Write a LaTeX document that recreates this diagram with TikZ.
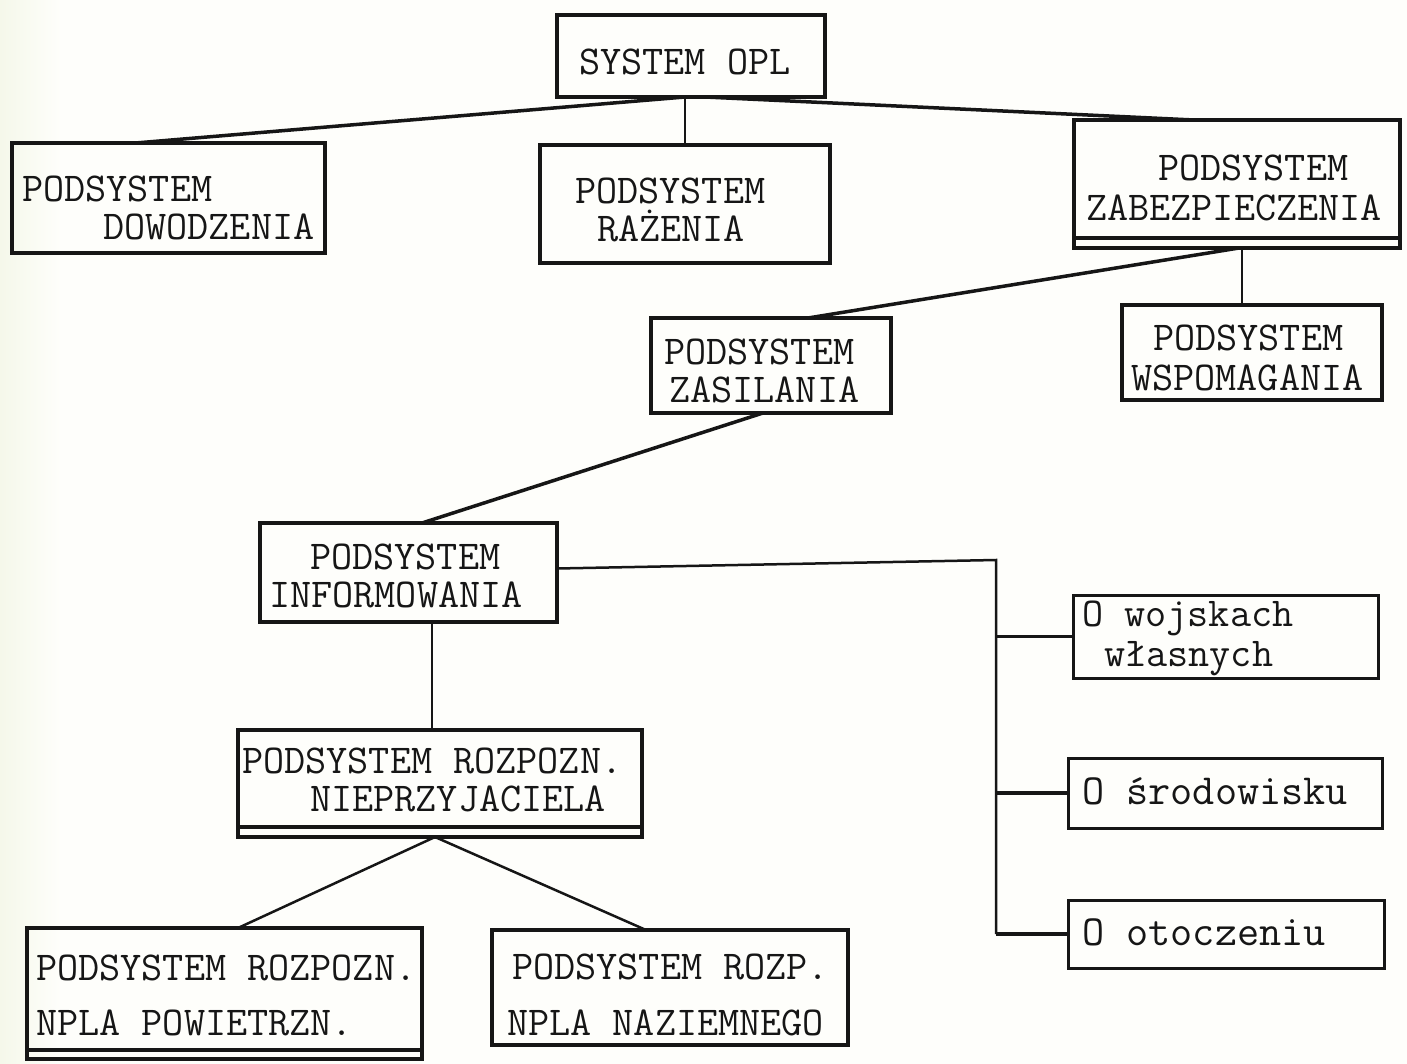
\documentclass[tikz,border=0pt]{standalone}
\usepackage{fontspec}
\usetikzlibrary{calc}
\definecolor{paper}{RGB}{254,254,251}
\definecolor{paperL}{RGB}{245,248,234}
\definecolor{ink}{RGB}{22,22,22}
\begin{document}
\begin{tikzpicture}[x=1pt,y=-1pt,
  bx/.style={draw=ink, line width=4.5pt, inner sep=0pt, outer sep=0pt},
  lbx/.style={draw=ink, line width=3pt, inner sep=0pt, outer sep=0pt},
  tx/.style={font=\fontsize{41}{#1}\selectfont\ttfamily, text=ink, anchor=north west, align=left, inner sep=0pt},
  tx/.default=40,
  tx1/.style={font=\fontsize{41}{48}\selectfont\ttfamily, text=ink, anchor=base west, inner sep=0pt},
  ltx1/.style={font=\fontsize{43}{50}\selectfont\ttfamily, text=ink, anchor=base west, inner sep=0pt},
  conn/.style={draw=ink, line width=3.5pt},
  thinconn/.style={draw=ink, line width=2.5pt}]
% background
\fill[paper] (0,0) rectangle (1407,1064);
\shade[left color=paperL, right color=paper] (0,0) rectangle (60,1064);
\useasboundingbox (0,0) rectangle (1407,1064);

% boxes
\node[bx, minimum width=268pt, minimum height=82pt]  (opl) at (691,56) {};
\node[bx, minimum width=313pt, minimum height=110pt] (dow) at (168.5,198) {};
\node[bx, minimum width=290pt, minimum height=118pt] (raz) at (685,204) {};
\node[bx, minimum width=326pt, minimum height=118pt] (zab) at (1237,179) {};
\node[bx, minimum width=240pt, minimum height=95pt]  (zas) at (771,365.5) {};
\node[bx, minimum width=260pt, minimum height=95pt]  (wsp) at (1252,352.5) {};
\node[bx, minimum width=297pt, minimum height=99pt]  (inf) at (408.5,572.5) {};
\node[bx, minimum width=404pt, minimum height=97pt]  (nie) at (440,778.5) {};
\node[bx, minimum width=395pt, minimum height=122pt] (pow) at (224.5,989) {};
\node[bx, minimum width=356pt, minimum height=115pt] (naz) at (670,987.5) {};
\node[lbx, minimum width=305pt, minimum height=83pt] (woj) at (1225.5,636.5) {};
\node[lbx, minimum width=314pt, minimum height=70pt] (sro) at (1225,793) {};
\node[lbx, minimum width=316pt, minimum height=68pt] (oto) at (1226,934) {};

% double bottom lines
\draw[bx] (zab.south west) -- ++(0,10) -- ($(zab.south east)+(0,10)$) -- (zab.south east);
\draw[bx] (nie.south west) -- ++(0,10) -- ($(nie.south east)+(0,10)$) -- (nie.south east);
\draw[bx] (pow.south west) -- ++(0,9) -- ($(pow.south east)+(0,9)$) -- (pow.south east);
\coordinate (zabB) at ($(zab.south)+(0,10)$);
\coordinate (nieB) at ($(nie.south)+(-5,10)$);

% texts
\node[tx1] (oplT) at (579,75) {SYSTEM OPL};
\node[tx=38] (dowT) at (22,175.5) {PODSYSTEM\\\hspace*{81pt}DOWODZENIA};
\node[tx=38] (razT) at (575,178) {PODSYSTEM\\\hspace*{22pt}RAŻENIA};
\node[tx=40] (zabT) at (1086,155) {\hspace*{72pt}PODSYSTEM\\ZABEZPIECZENIA};
\node[tx=38] (zasT) at (664,339) {PODSYSTEM\\\hspace*{5pt}ZASILANIA};
\node[tx=40] (wspT) at (1131,325) {\hspace*{22pt}PODSYSTEM\\WSPOMAGANIA};
\node[tx=38] (infT) at (269,544) {\hspace*{41pt}PODSYSTEM\\INFORMOWANIA};
\node[tx=38] (nieT) at (242,747.5) {PODSYSTEM ROZPOZN.\\\hspace*{68pt}NIEPRZYJACIELA};
\node[tx=55] (powT) at (36,955) {PODSYSTEM ROZPOZN.\\NPLA POWIETRZN.};
\node[tx=56] (nazT) at (507,954) {\hspace*{5pt}PODSYSTEM ROZP.\\NPLA NAZIEMNEGO};
\node[tx=40] (wojT) at (1082,601) {O wojskach\\\hspace*{22pt}własnych};
\node[ltx1] (sroT) at (1082,804) {O środowisku};
\node[ltx1] (otoT) at (1082,945) {O otoczeniu};

% connectors
\draw[conn] ($(opl.south)+(-6,0)$) -- ($(dow.north)+(-33,0)$);
\draw[thinconn] (opl.south -| raz.north) -- (raz.north);
\draw[conn] ($(opl.south)+(14,0)$) -- ($(zab.north)+(-43,0)$);
\draw[conn] ($(zabB)+(2,0)$) -- ($(zas.north)+(37,0)$);
\coordinate (wspTop) at ($(wsp.north)+(-10,0)$);
\draw[thinconn] (zabB -| wspTop) -- (wspTop);
\draw[conn] ($(zas.south)+(-8,0)$) -- ($(inf.north)+(13.5,0)$);
\coordinate (nieTop) at ($(nie.north)+(-8,0)$);
\draw[thinconn] (inf.south -| nieTop) -- (nieTop);
\draw[thinconn] (nieB) -- ($(pow.north)+(13.5,0)$);
\draw[thinconn] (nieB) -- ($(naz.north)+(-24,0)$);
\coordinate (bus) at (996,560);
\coordinate (busEnd) at (996,934);
\draw[thinconn] ($(inf.east)+(0,-4)$) -- (bus) -- (busEnd);
\draw[conn] (bus |- woj.west) -- (woj.west);
\draw[conn] (bus |- sro.west) -- (sro.west);
\draw[conn] (bus |- oto.west) -- (oto.west);
\end{tikzpicture}
\end{document}
